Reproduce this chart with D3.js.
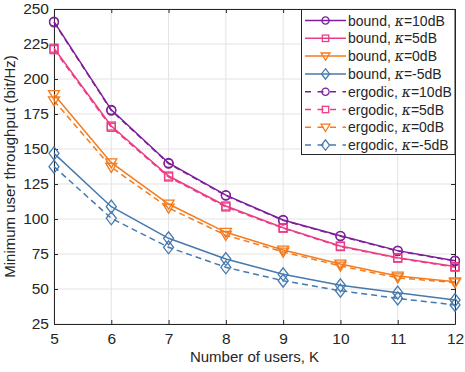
<!DOCTYPE html>
<html>
<head>
<meta charset="utf-8">
<script src="https://cdn.jsdelivr.net/npm/d3@7"></script>
<style>
  body { margin: 0; background: #fff; }
  text { font-family: "Liberation Sans", Arial, sans-serif; }
</style>
</head>
<body>
<div id="chart"></div>
<script>
var users = [5, 6, 7, 8, 9, 10, 11, 12];

var bound10 = [241, 178, 140, 117, 99.3, 88, 77.4, 70.2];
var bound5 = [222, 166.4, 130.7, 109.3, 93.8, 80.7, 72.4, 66];
var bound0 = [189, 140.2, 110.7, 90.5, 77.9, 67.9, 59.3, 55.2];
var boundm5 = [146.9, 108.8, 86.2, 71.4, 60.5, 52.6, 47.4, 42.1];
var ergo10 = [240.5, 177.5, 139.6, 116.7, 99, 87.7, 77.1, 70];
var ergo5 = [221, 165.5, 130, 108.6, 93.4, 80.3, 72, 65.6];
var ergo0 = [184.5, 137, 107.9, 88.4, 76.5, 66.5, 58, 54.5];
var ergom5 = [137.4, 100.5, 79.8, 65.5, 55.9, 48.8, 43.3, 38.6];

var yTicks = [25, 50, 75, 100, 125, 150, 175, 200, 225, 250];

var series = [
  {name: "bound, ", k: "=10dB", vals: bound10, color: "#7E1F9A", marker: "circle", dash: null},
  {name: "bound, ", k: "=5dB", vals: bound5, color: "#EC3D86", marker: "square", dash: null},
  {name: "bound, ", k: "=0dB", vals: bound0, color: "#F47B1E", marker: "tri", dash: null},
  {name: "bound, ", k: "=-5dB", vals: boundm5, color: "#4679AE", marker: "diamond", dash: null},
  {name: "ergodic, ", k: "=10dB", vals: ergo10, color: "#7E1F9A", marker: "circle", dash: "6,4"},
  {name: "ergodic, ", k: "=5dB", vals: ergo5, color: "#EC3D86", marker: "square", dash: "6,4"},
  {name: "ergodic, ", k: "=0dB", vals: ergo0, color: "#F47B1E", marker: "tri", dash: "6,4"},
  {name: "ergodic, ", k: "=-5dB", vals: ergom5, color: "#4679AE", marker: "diamond", dash: "6,4"}
];

var width = 465, height = 372;
var margin = {left: 54, right: 10, top: 9, bottom: 48};

var svg = d3.select("#chart").append("svg")
    .attr("width", width)
    .attr("height", height);

var x = d3.scaleLinear().domain([5, 12]).range([margin.left, width - margin.right]);
var y = d3.scaleLinear().domain([25, 250]).range([height - margin.bottom, margin.top]);

// grid
svg.append("g").selectAll("line").data(users).enter().append("line")
    .attr("x1", d => x(d)).attr("x2", d => x(d))
    .attr("y1", y(25)).attr("y2", y(250))
    .attr("stroke", "#e3e3e3").attr("stroke-width", 1);
svg.append("g").selectAll("line").data(yTicks).enter().append("line")
    .attr("x1", x(5)).attr("x2", x(12))
    .attr("y1", d => y(d)).attr("y2", d => y(d))
    .attr("stroke", "#e3e3e3").attr("stroke-width", 1);

// axes
svg.append("g")
    .attr("transform", "translate(0," + y(25) + ")")
    .call(d3.axisBottom(x).tickValues(users).tickFormat(d3.format("d"))
      .tickSizeInner(-4).tickSizeOuter(0).tickPadding(9));
svg.append("g")
    .attr("transform", "translate(" + x(5) + ",0)")
    .call(d3.axisLeft(y).tickValues(yTicks).tickSizeInner(-4).tickSizeOuter(0).tickPadding(5));
svg.append("g")
    .attr("transform", "translate(0," + y(250) + ")")
    .call(d3.axisTop(x).tickValues(users).tickSizeInner(-4).tickSizeOuter(0).tickFormat(""));
svg.append("g")
    .attr("transform", "translate(" + x(12) + ",0)")
    .call(d3.axisRight(y).tickValues(yTicks).tickSizeInner(-4).tickSizeOuter(0).tickFormat(""));

svg.selectAll(".domain").attr("stroke", "#262626");
svg.selectAll(".tick line").attr("stroke", "#262626");
svg.selectAll(".tick text").attr("font-size", 15.5).attr("fill", "#262626")
    .style("font-family", "'Liberation Sans', Arial, sans-serif");

svg.append("text")
    .attr("x", (x(5) + x(12)) / 2)
    .attr("y", 362)
    .attr("text-anchor", "middle")
    .attr("font-size", 15)
    .attr("fill", "#262626")
    .text("Number of users, K");

svg.append("text")
    .attr("transform", "translate(15," + (y(25) + y(250)) / 2 + ") rotate(-90)")
    .attr("text-anchor", "middle")
    .attr("font-size", 15)
    .attr("fill", "#262626")
    .text("Minimum user throughput (bit/Hz)");

function drawMarker(g, type, color, s) {
  if (type == "circle") {
    g.append("circle").attr("r", 4.5 * s).attr("fill", "none").attr("stroke", color).attr("stroke-width", 1.3);
  } else if (type == "square") {
    g.append("rect").attr("x", -4 * s).attr("y", -4 * s).attr("width", 8 * s).attr("height", 8 * s)
      .attr("fill", "none").attr("stroke", color).attr("stroke-width", 1.3);
  } else if (type == "tri") {
    var t = 5.5 * s;
    g.append("path").attr("d", "M" + (-t) + "," + (-t * 0.7) + "L" + t + "," + (-t * 0.7) + "L0," + (t * 0.95) + "Z")
      .attr("fill", "none").attr("stroke", color).attr("stroke-width", 1.3);
  } else {
    var w = 5 * s, h = 6.5 * s;
    g.append("path").attr("d", "M0," + (-h) + "L" + w + ",0L0," + h + "L" + (-w) + ",0Z")
      .attr("fill", "none").attr("stroke", color).attr("stroke-width", 1.3);
  }
}

var line = d3.line()
    .x((d, i) => x(users[i]))
    .y(d => y(d));

series.forEach(function(s) {
  svg.append("path")
    .attr("d", line(s.vals))
    .attr("fill", "none")
    .attr("stroke", s.color)
    .attr("stroke-width", 1.5)
    .attr("stroke-dasharray", s.dash);
  s.vals.forEach(function(v, i) {
    var g = svg.append("g").attr("transform", "translate(" + x(users[i]) + "," + y(v) + ")");
    drawMarker(g, s.marker, s.color, 1);
  });
});

// legend
var lg = svg.append("g");
lg.append("rect")
    .attr("x", 301.5).attr("y", 9.5)
    .attr("width", x(12) - 301.5).attr("height", 145)
    .attr("fill", "#fff").attr("stroke", "#262626").attr("stroke-width", 1);

series.forEach(function(s, i) {
  var yy = 20.5 + i * 17.8;
  lg.append("line")
    .attr("x1", 305).attr("x2", 346)
    .attr("y1", yy).attr("y2", yy)
    .attr("stroke", s.color).attr("stroke-width", 1.5)
    .attr("stroke-dasharray", s.dash ? "6,6.5" : null);
  var g = lg.append("g").attr("transform", "translate(325.5," + yy + ")");
  drawMarker(g, s.marker, s.color, 0.8);
  var t = lg.append("text")
    .attr("x", 348).attr("y", yy + 5)
    .attr("font-size", 14).attr("fill", "#262626");
  t.append("tspan").text(s.name);
  t.append("tspan").style("font-style", "italic").style("font-family", "'DejaVu Serif', serif").text("κ");
  t.append("tspan").text(s.k);
});
</script>
</body>
</html>
